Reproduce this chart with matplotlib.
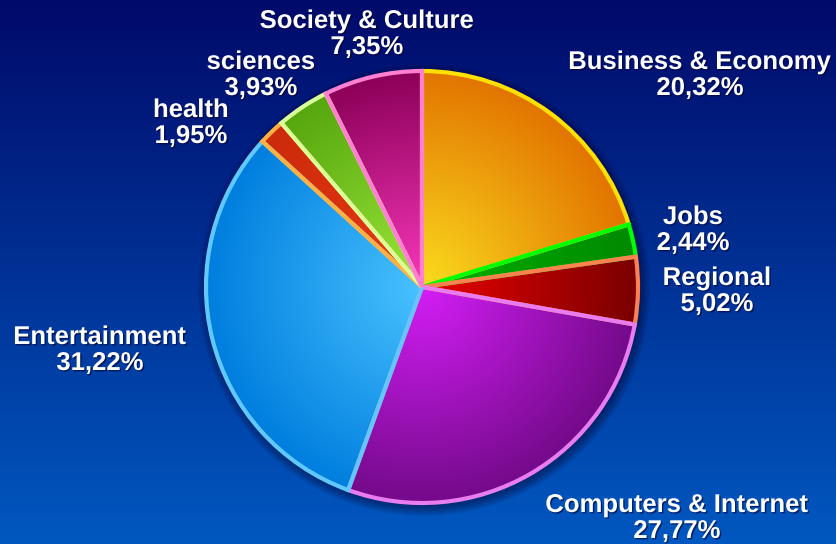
import matplotlib
matplotlib.use("Agg")
import matplotlib.pyplot as plt
import matplotlib.patheffects as pe
from matplotlib.patches import Wedge, Circle
from matplotlib.colors import to_rgb
import numpy as np

# category shares (percent), clockwise from 12 o'clock
categories = ["Business & Economy", "Jobs", "Regional", "Computers & Internet",
              "Entertainment", "health", "sciences", "Society & Culture"]
shares = [20.32, 2.44, 5.02, 27.77, 31.22, 1.95, 3.93, 7.35]

# radial gradient colours (centre -> rim) and outline colour of each slice
inner_colors = ["#fbdc1e", "#00b000", "#ec0000", "#d41ef6", "#48c2ff", "#e83a12", "#9ce83a", "#f838bc"]
outer_colors = ["#e27400", "#008a00", "#7a0000", "#740a8a", "#007ede", "#cc2a0c", "#56a60e", "#8c0058"]
edge_colors = ["#ffe000", "#00ff00", "#ff8050", "#e87cf0", "#60c8ff", "#ffb040", "#d8ff98", "#ff80d0"]

# label anchor points (x, y from the top edge) for each category
label_pos = [(700, 62), (693, 217), (717, 278), (677, 505),
             (100, 337), (191, 110), (261, 62), (367, 21)]

W, H = 837, 544
cx, cy, R = 422, H - 287, 216

fig = plt.figure(figsize=(W / 100, H / 100), dpi=100)
ax = fig.add_axes([0, 0, 1, 1])

# dark navy -> blue vertical background
top, bottom = np.array(to_rgb("#000a6a")), np.array(to_rgb("#0058c0"))
t = np.linspace(0, 1, 256)[:, None]
bg = top + (bottom - top) * t
ax.imshow(bg[:, None, :].repeat(2, axis=1), extent=(0, W, 0, H), aspect="auto",
          zorder=0, interpolation="bilinear")

# soft shadow around the pie
for k in range(10, 0, -1):
    ax.add_patch(Circle((cx + 2, cy - 3), R + k, color="#000020", alpha=0.05, lw=0, zorder=1))

wedges, _ = ax.pie(shares, radius=R, center=(cx, cy), startangle=90, counterclock=False,
                   wedgeprops=dict(linewidth=0), frame=True)

# radial gradient fill clipped to each slice
gx, gy = np.meshgrid(np.linspace(cx - R, cx + R, 400), np.linspace(cy - R, cy + R, 400))
dist = np.clip(np.hypot(gx - cx, gy - cy) / R, 0, 1)[..., None]
for i, w in enumerate(wedges):
    w.set_zorder(2)
    c0, c1 = np.array(to_rgb(inner_colors[i])), np.array(to_rgb(outer_colors[i]))
    img = c0 + (c1 - c0) * dist
    im = ax.imshow(img, extent=(cx - R, cx + R, cy - R, cy + R), origin="lower",
                   zorder=3, interpolation="bilinear")
    im.set_clip_path(w)

# outlines drawn in order so each later slice sits on top
for i, w in enumerate(wedges):
    ax.add_patch(Wedge(w.center, w.r, w.theta1, w.theta2, fill=False,
                       edgecolor=edge_colors[i], linewidth=3, zorder=4 + i))

shadow = [pe.SimplePatchShadow(offset=(1, -1), shadow_rgbFace="#000030", alpha=0.6), pe.Normal()]
for name, val, (lx, ly) in zip(categories, shares, label_pos):
    pct = f"{val:.2f}".replace(".", ",") + "%"
    for txt, yy in ((name, ly), (pct, ly + 26)):
        ax.text(lx, H - yy, txt, ha="center", va="center", color="white",
                fontsize=18.5, fontweight="bold", family="Liberation Sans",
                path_effects=shadow, zorder=20)

ax.set_xlim(0, W)
ax.set_ylim(0, H)
ax.set_aspect("auto")
ax.axis("off")
fig.savefig("out.png", dpi=100)
